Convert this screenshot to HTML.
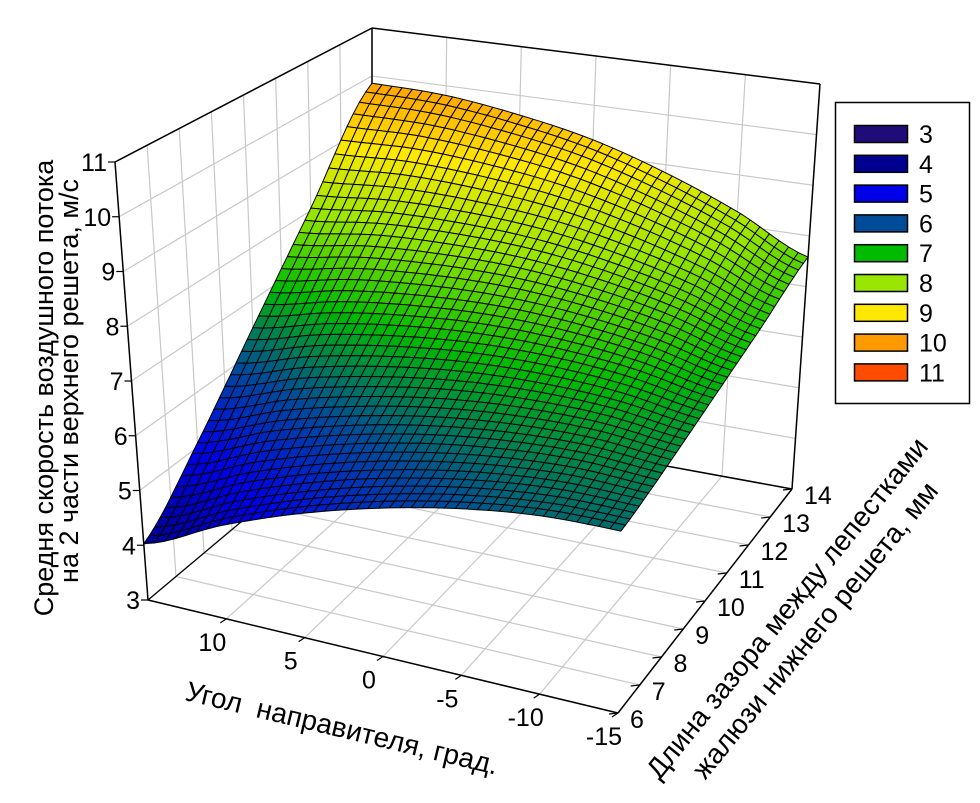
<!DOCTYPE html>
<html><head><meta charset="utf-8"><style>
html,body{margin:0;padding:0;background:#fff;}
svg text{font-family:"Liberation Sans",Arial,sans-serif;fill:#000;}
</style></head><body>
<svg id="chart" width="980" height="798" viewBox="0 0 980 798" xmlns="http://www.w3.org/2000/svg">
<g id="walls"></g>
<g id="surface"></g>
<g id="axes"></g>
<text transform="translate(44,388) rotate(-90)" text-anchor="middle" dominant-baseline="central" font-size="27">Средня скорость воздушного потока</text>
<text transform="translate(69,381) rotate(-90)" text-anchor="middle" dominant-baseline="central" font-size="27">на 2 части верхнего решета, м/с</text>
<text transform="translate(342,728) rotate(13.5)" text-anchor="middle" dominant-baseline="central" font-size="28">Угол&#160;&#160;направителя, град.</text>
<text transform="translate(787,608) rotate(-51)" text-anchor="middle" dominant-baseline="central" font-size="28">Длина зазора между лепестками</text>
<text transform="translate(815,630) rotate(-51)" text-anchor="middle" dominant-baseline="central" font-size="28">жалюзи нижнего решета, мм</text>
<g id="legend"></g>
</svg>
<script>
// data
const xVals = [15, 10, 5, 0, -5, -10, -15];
const yVals = [6, 8, 10, 12, 14];
const zRowY6  = [4.03, 4.70, 5.26, 5.70, 6.03, 6.24, 6.30];
const zRowY8  = [5.08, 5.62, 6.04, 6.35, 6.54, 6.61, 6.53];
const zRowY10 = [6.47, 6.84, 7.08, 7.21, 7.21, 7.09, 6.84];
const zRowY12 = [8.05, 8.22, 8.25, 8.18, 7.97, 7.64, 7.18];
const zRowY14 = [9.85, 9.80, 9.60, 9.30, 8.84, 8.27, 7.58];
const xTicks = [10, 5, 0, -5, -10, -15];
const yTicks = [6, 7, 8, 9, 10, 11, 12, 13, 14];
const zTicks = [3, 4, 5, 6, 7, 8, 9, 10, 11];
const legendLevels = [3, 4, 5, 6, 7, 8, 9, 10, 11];
const legendColors = ['#200c78', '#000090', '#0000e8', '#004c99', '#00bb00', '#99e600', '#ffe800', '#ff9900', '#ff4c00'];

const zGrid = [zRowY6, zRowY8, zRowY10, zRowY12, zRowY14];
const NS = 'http://www.w3.org/2000/svg';
const X0 = 15, X1 = -15, Y0 = 6, Y1 = 14, Z0 = 3, Z1 = 11;
const cA = [148, 600], cB = [618, 713], cC = [792, 489], cD = [372, 412];
const tA = [115, 162], tB = [625, 272], tC = [820, 84], tD = [372, 28];
function bil(p00, p10, p11, p01, s, t) {
  return [
    p00[0]*(1-s)*(1-t) + p10[0]*s*(1-t) + p11[0]*s*t + p01[0]*(1-s)*t,
    p00[1]*(1-s)*(1-t) + p10[1]*s*(1-t) + p11[1]*s*t + p01[1]*(1-s)*t
  ];
}
function projST(s, t, r) {
  const b = bil(cA, cB, cC, cD, s, t), u = bil(tA, tB, tC, tD, s, t);
  return [b[0] + (u[0]-b[0])*r, b[1] + (u[1]-b[1])*r];
}
function sx(x) { return (X0 - x) / (X0 - X1); }
function sy(y) { return (y - Y0) / (Y1 - Y0); }
function sz(z) { return (z - Z0) / (Z1 - Z0); }
function proj(x, y, z) { return projST(sx(x), sy(y), sz(z)); }

function el(tag, attrs, parent) {
  const e = document.createElementNS(NS, tag);
  for (const k in attrs) e.setAttribute(k, attrs[k]);
  parent.appendChild(e);
  return e;
}
function line(p, q, stroke, w, parent, name) {
  const l = el('line', {x1: p[0], y1: p[1], x2: q[0], y2: q[1], stroke: stroke, 'stroke-width': w}, parent);
  
  
  return l;
}

const walls = document.getElementById('walls');
const G = '#c8c8c8';
zTicks.forEach(z => {
  line(proj(X0, Y0, z), proj(X0, Y1, z), G, 1.2, walls, 'left-wall-gridline');
  line(proj(X0, Y1, z), proj(X1, Y1, z), G, 1.2, walls, 'back-wall-gridline');
});
yTicks.forEach(y => {
  line(proj(X0, y, Z0), proj(X0, y, Z1), G, 1.2, walls, 'left-wall-gridline');
  line(proj(X0, y, Z0), proj(X1, y, Z0), G, 1.2, walls, 'floor-gridline');
});
xTicks.concat([15]).forEach(x => {
  line(proj(x, Y1, Z0), proj(x, Y1, Z1), G, 1.2, walls, 'back-wall-gridline');
  line(proj(x, Y0, Z0), proj(x, Y1, Z0), G, 1.2, walls, 'floor-gridline');
});
const K = '#000';
line(proj(X0, Y0, Z1), proj(X0, Y1, Z1), K, 1.5, walls, 'box-edge');
line(proj(X0, Y1, Z1), proj(X1, Y1, Z1), K, 1.5, walls, 'box-edge');
line(proj(X0, Y1, Z0), proj(X0, Y1, Z1), K, 1.5, walls, 'box-edge');
line(proj(X1, Y1, Z0), proj(X1, Y1, Z1), K, 1.5, walls, 'box-edge');
line(proj(X0, Y1, Z0), proj(X1, Y1, Z0), K, 1.5, walls, 'box-edge');
line(proj(X0, Y0, Z0), proj(X0, Y1, Z0), K, 1.2, walls, 'box-edge');

function cr(p0, p1, p2, p3, t) {
  return 0.5*((2*p1) + (-p0+p2)*t + (2*p0-5*p1+4*p2-p3)*t*t + (-p0+3*p1-3*p2+p3)*t*t*t);
}
function row(arr, f) {
  const n = arr.length - 1, g = Math.min(Math.max(f*n, 0), n);
  let i = Math.min(Math.floor(g), n-1); const t = g - i;
  const a = arr[Math.max(i-1, 0)], b = arr[i], c = arr[i+1], d = arr[Math.min(i+2, n)];
  return cr(a, b, c, d, t);
}
function zAt(fs, ft) {
  const vals = zGrid.map(r => row(r, fs));
  return row(vals, ft);
}
function hex(c) { return [parseInt(c.slice(1,3),16), parseInt(c.slice(3,5),16), parseInt(c.slice(5,7),16)]; }
function color(z) {
  const n = legendLevels.length - 1;
  let f = (z - legendLevels[0]) / (legendLevels[n] - legendLevels[0]) * n;
  f = Math.min(Math.max(f, 0), n);
  let i = Math.min(Math.floor(f), n-1); const t = f - i;
  const a = hex(legendColors[i]), b = hex(legendColors[i+1]);
  return 'rgb(' + a.map((v, k) => Math.round(v + (b[k]-v)*t)).join(',') + ')';
}
const surf = document.getElementById('surface');
const NX = 44, NY = 40;
const pts = [];
for (let j = 0; j <= NY; j++) {
  const r = [];
  for (let i = 0; i <= NX; i++) {
    const fs = i/NX, ft = j/NY;
    const z = zAt(fs, ft);
    r.push({p: projST(fs, ft, sz(z)), z: z});
  }
  pts.push(r);
}
const cells = [];
for (let j = 0; j < NY; j++) for (let i = 0; i < NX; i++) {
  cells.push({i: i, j: j, d: (1 - (i+0.5)/NX) + (j+0.5)/NY});
}
cells.sort((a, b) => b.d - a.d);
cells.forEach(c => {
  const q = [pts[c.j][c.i], pts[c.j][c.i+1], pts[c.j+1][c.i+1], pts[c.j+1][c.i]];
  const zm = (q[0].z + q[1].z + q[2].z + q[3].z) / 4;
  const poly = el('polygon', {points: q.map(o => o.p[0].toFixed(1) + ',' + o.p[1].toFixed(1)).join(' '), fill: color(zm), stroke: '#000', 'stroke-width': 1, 'stroke-linejoin': 'round'}, surf);
  
  
});

const axes = document.getElementById('axes');
line(proj(X0, Y0, Z0), proj(X0, Y0, Z1), K, 1.5, axes, 'z-axis-line');
line(proj(X0, Y0, Z0), proj(X1, Y0, Z0), K, 1.5, axes, 'x-axis-line');
line(proj(X1, Y0, Z0), proj(X1, Y1, Z0), K, 1.5, axes, 'y-axis-line');
zTicks.forEach(z => {
  const p = proj(X0, Y0, z);
  line(p, [p[0]-7, p[1]], K, 1.2, axes, 'z-tick');
  const t = el('text', {x: p[0]-8, y: p[1]+9, 'text-anchor': 'end', 'font-size': 25}, axes);
  t.textContent = z;
  
  
});
xTicks.forEach(x => {
  const p = proj(x, Y0, Z0);
  line(p, [p[0]-6, p[1]+4], K, 1.2, axes, 'x-tick');
  const t = el('text', {x: p[0]-14, y: p[1]+32, 'text-anchor': 'middle', 'font-size': 25}, axes);
  t.textContent = x;
  
  
});
yTicks.forEach(y => {
  const p = proj(X1, y, Z0);
  line(p, [p[0]-9, p[1]+1], K, 1.2, axes, 'y-tick');
  const t = el('text', {x: p[0]+12, y: p[1]+15, 'text-anchor': 'start', 'font-size': 25}, axes);
  t.textContent = y;
  
  
});

const lg = document.getElementById('legend');
const box = el('rect', {x: 835.5, y: 102.5, width: 134, height: 301, fill: '#fff', stroke: '#000', 'stroke-width': 1.5}, lg);


legendLevels.forEach((lv, k) => {
  const cy = 134 + k*29.8;
  const r = el('rect', {x: 854.5, y: cy-8.5, width: 53, height: 17, fill: legendColors[k], stroke: '#000', 'stroke-width': 1.5}, lg);
  
  
  const t = el('text', {x: 919, y: cy+9, 'font-size': 25}, lg);
  t.textContent = lv;
  
  
});
</script>
</body></html>
